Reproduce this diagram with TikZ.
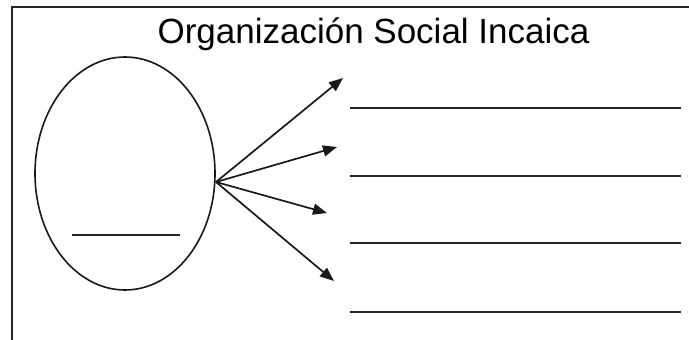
\documentclass[tikz,border=0pt]{standalone}
\usepackage{fontspec}
\setmainfont{Liberation Sans}
\usetikzlibrary{shapes.geometric,arrows.meta}
\begin{document}
\begin{tikzpicture}[x=1pt,y=-1pt,
  frameline/.style={line width=2.2pt,color=black!85},
  blank/.style={line width=2.6pt,color=black!85},
  arr/.style={line width=1.7pt,color=black!90,-{Triangle[length=14pt,width=11pt]}},
  oval/.style={ellipse,draw,line width=1.6pt,color=black!90,inner sep=0pt,outer sep=0pt,minimum width=180pt,minimum height=233pt}]
\useasboundingbox (0,0) rectangle (689,340);
% frame
\coordinate (fb) at (12,340);
\coordinate (fc) at (12,7);
\coordinate (fr) at (689,7);
\draw[frameline] (fb) -- (fc) -- (fr);
% title
\node[anchor=base,font=\fontsize{35}{40}\selectfont,inner sep=0pt] (title) at (373.5,43) {Organización Social Incaica};
% ellipse
\node[oval] (circ) at (125,173.5) {};
\coordinate (s1) at (72,235);
\coordinate (s2) at (180,235);
\draw[blank] (s1) -- (s2);
% arrows
\coordinate (src) at (216,182);
\coordinate (t1) at (343,78);
\coordinate (t2) at (337,147);
\coordinate (t3) at (327,213);
\coordinate (t4) at (334,281);
\draw[arr] (src) -- (t1);
\draw[arr] (src) -- (t2);
\draw[arr] (src) -- (t3);
\draw[arr] (src) -- (t4);
% blank lines
\coordinate (a1) at (350,108); \coordinate (b1) at (681,108);
\coordinate (a2) at (350,176); \coordinate (b2) at (681,176);
\coordinate (a3) at (350,243); \coordinate (b3) at (681,243);
\coordinate (a4) at (350,312); \coordinate (b4) at (681,312);
\draw[blank] (a1) -- (b1);
\draw[blank] (a2) -- (b2);
\draw[blank] (a3) -- (b3);
\draw[blank] (a4) -- (b4);
\end{tikzpicture}
\end{document}
